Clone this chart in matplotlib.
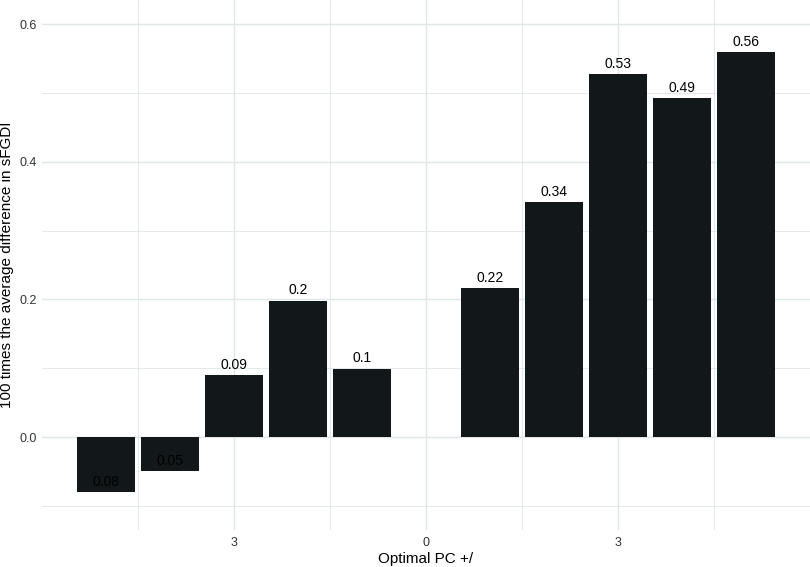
import matplotlib.pyplot as plt
import numpy as np
from matplotlib.ticker import FixedLocator

# data
pc_shift = [-5, -4, -3, -2, -1, 1, 2, 3, 4, 5]
diff = [-0.08, -0.05, 0.09, 0.198, 0.099, 0.216, 0.341, 0.527, 0.492, 0.559]
value_labels = ["0.08", "0.05", "0.09", "0.2", "0.1", "0.22", "0.34", "0.53", "0.49", "0.56"]
x_breaks = [-3, 0, 3]
x_tick_labels = ["3", "0", "3"]
y_breaks = [0.0, 0.2, 0.4, 0.6]
y_tick_labels = ["0.0", "0.2", "0.4", "0.6"]

plt.rcParams['font.family'] = ['Liberation Sans', 'DejaVu Sans']

fig = plt.figure(figsize=(8.1, 5.67), dpi=100)
ax = fig.add_axes([42 / 810, 37 / 567, 1 - 42 / 810, 1 - 37 / 567])

grid_col = "#dfe7e7"
ax.bar(pc_shift, diff, width=0.9, color="#121819", zorder=3)

for x, y, lab in zip(pc_shift, diff, value_labels):
    ax.annotate(lab, (x, y), xytext=(0, 2.5), textcoords="offset points",
                ha="center", va="bottom", fontsize=10, color="#000000", zorder=4)

ax.set_xlim(-6.0, 6.0)
ax.set_ylim(-0.135, 0.635)

ax.xaxis.set_major_locator(FixedLocator(x_breaks))
ax.xaxis.set_minor_locator(FixedLocator([-4.5, -1.5, 1.5, 4.5]))
ax.yaxis.set_major_locator(FixedLocator(y_breaks))
ax.yaxis.set_minor_locator(FixedLocator([-0.1, 0.1, 0.3, 0.5]))
ax.set_xticklabels(x_tick_labels)
ax.set_yticklabels(y_tick_labels)

ax.grid(which="major", color=grid_col, linewidth=1.0, zorder=0)
ax.grid(which="minor", color=grid_col, linewidth=0.6, zorder=0)
ax.set_axisbelow(True)

ax.tick_params(which="both", length=0, labelsize=9, colors="#333333", pad=5)
ax.tick_params(axis="y", pad=4)
for s in ax.spines.values():
    s.set_visible(False)

ax.set_xlabel("Optimal PC +/", fontsize=11, labelpad=2)
ax.set_ylabel("100 times the average difference in sFGDI", fontsize=11, labelpad=4)

fig.savefig("out.png", dpi=100)
